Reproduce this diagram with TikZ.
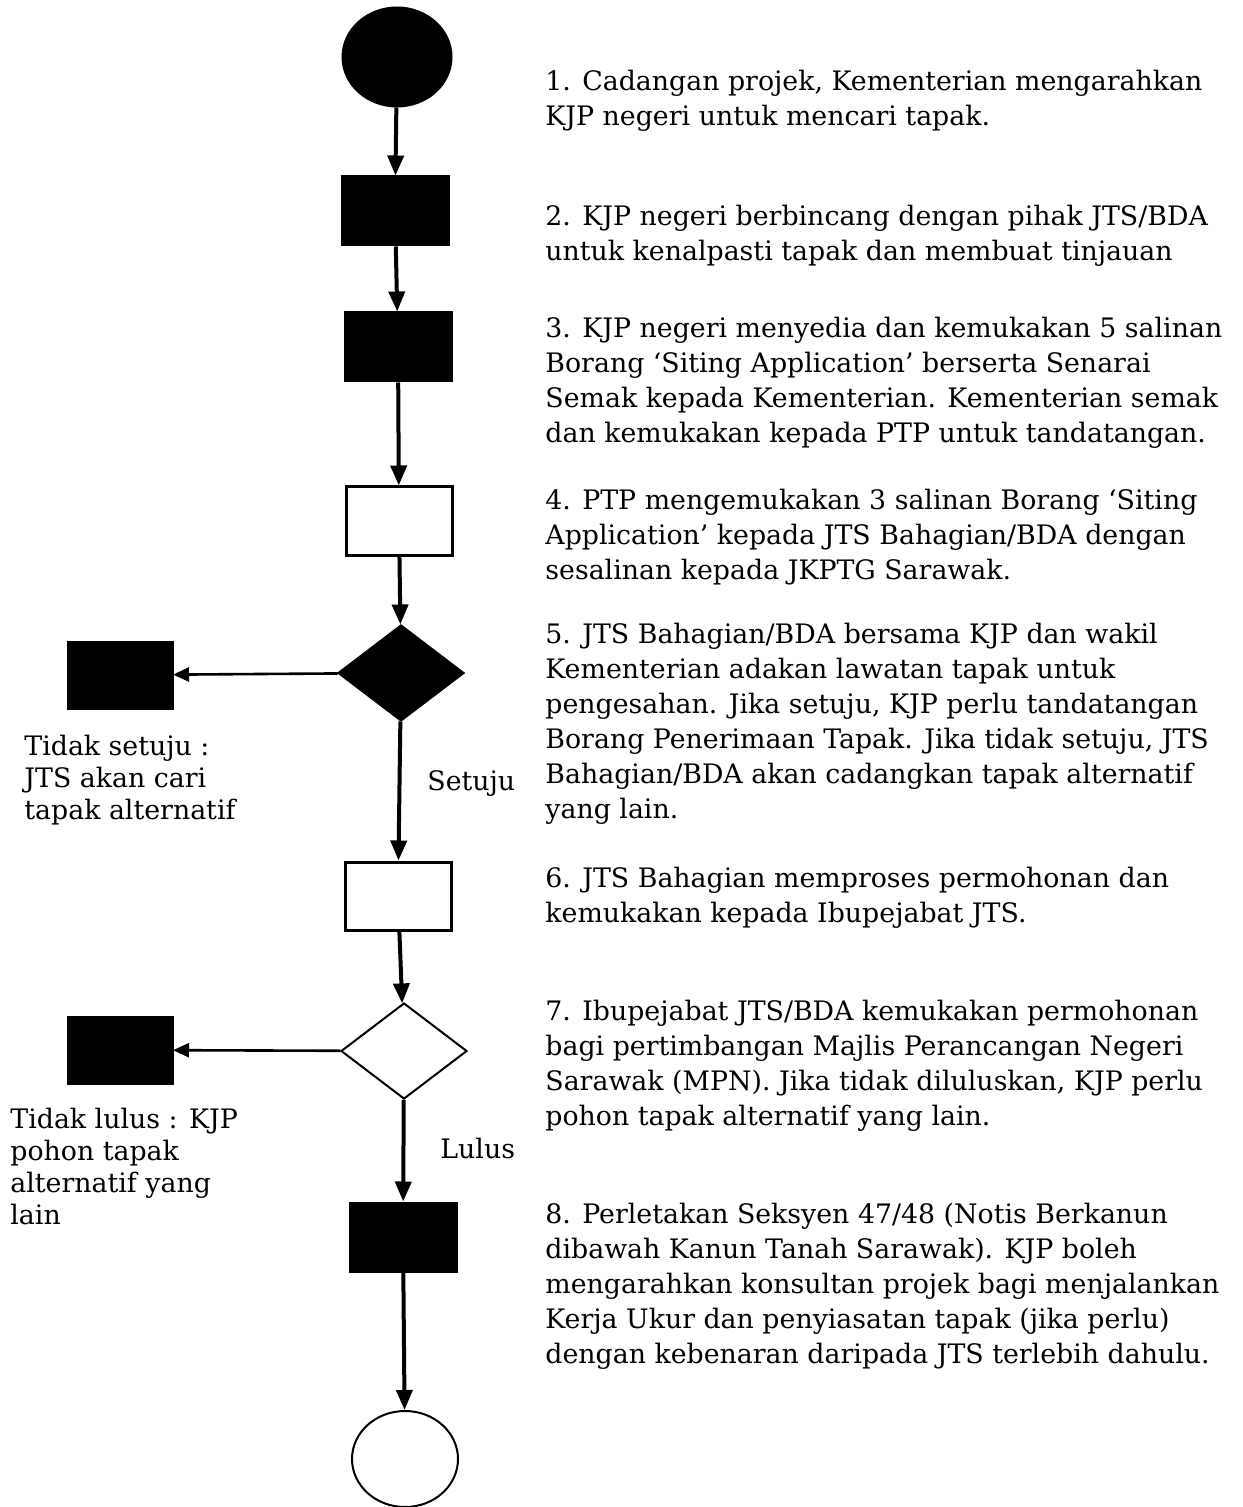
\documentclass[tikz,border=0pt]{standalone}
\usepackage{fontspec}
\setmainfont{DejaVu Serif}
\usetikzlibrary{shapes.geometric, arrows.meta}

\begin{document}
\begin{tikzpicture}[
    x=0.5pt, y=-0.5pt,
    act/.style={draw, line width=1.5pt, minimum width=53pt, minimum height=34pt, inner sep=0pt},
    dec/.style={draw, diamond, line width=1pt, minimum width=63pt, minimum height=48pt, inner sep=0pt},
    endpt/.style={draw, ellipse, line width=1pt, inner sep=0pt},
    desc/.style={anchor=north west, align=left, inner sep=0pt, font=\fontsize{13.4}{17.5}\selectfont},
    note/.style={anchor=north west, align=left, inner sep=0pt, font=\fontsize{13.4}{16}\selectfont},
    flow/.style={-{Triangle[length=10pt, width=8pt]}, line width=2pt},
    side/.style={-{Triangle[length=8pt, width=7pt]}, line width=1.3pt}
]
    \useasboundingbox (0, 0) rectangle (1242, 1507);

    % 1. Main column (top to bottom)
    \node[endpt, fill=black, minimum width=54.5pt, minimum height=49.5pt] (start) at (397, 57) {};
    \node[act, fill=black] (kjp) at (395, 211) {};
    \node[act, fill=black] (borang) at (398, 347) {};
    \node[act, fill=white] (ptp) at (399, 521) {};
    \node[dec, fill=black] (lawatan) at (401, 673) {};
    \node[act, fill=white] (proses) at (398, 896) {};
    \node[dec, fill=white] (mpn) at (404, 1051) {};
    \node[act, fill=black] (seksyen) at (403, 1237) {};
    \node[endpt, fill=white, minimum width=53pt, minimum height=48pt] (stop) at (405, 1459) {};

    % 2. Rejection boxes (left)
    \node[act, fill=black, line width=0pt] (tolaktapak) at (120, 675) {};
    \node[act, fill=black, line width=0pt] (tolakmpn) at (120, 1050) {};

    % Arrows
    \draw[flow] (start) -- (kjp);
    \draw[flow] (kjp) -- (borang);
    \draw[flow] (borang) -- (ptp);
    \draw[flow] (ptp) -- (lawatan);
    \draw[flow] (lawatan) -- (proses);
    \draw[flow] (proses) -- (mpn);
    \draw[flow] (mpn) -- (seksyen);
    \draw[flow] (seksyen) -- (stop);

    % Branching arrows
    \draw[side] (lawatan) -- (tolaktapak);
    \draw[side] (mpn) -- (tolakmpn);

    % 3. Branch labels
    \node[anchor=base west, inner sep=0pt, font=\fontsize{13.4}{16}\selectfont] (setuju) at (427, 790) {Setuju};
    \node[anchor=base west, inner sep=0pt, font=\fontsize{13.4}{16}\selectfont] (lulus) at (440, 1158) {Lulus};
    \node[note] (tsetuju) at (24, 735) {Tidak setuju :\\JTS akan cari\\tapak alternatif};
    \node[note] (tlulus) at (10, 1108) {Tidak lulus : KJP\\pohon tapak\\alternatif yang\\lain};

    % 4. Step descriptions (right)
    \node[desc] (d1) at (545, 70) {1. Cadangan projek, Kementerian mengarahkan\\KJP negeri untuk mencari tapak.};
    \node[desc] (d2) at (545, 205) {2. KJP negeri berbincang dengan pihak JTS/BDA\\untuk kenalpasti tapak dan membuat tinjauan};
    \node[desc] (d3) at (545, 317) {3. KJP negeri menyedia dan kemukakan 5 salinan\\Borang ‘Siting Application’ berserta Senarai\\Semak kepada Kementerian. Kementerian semak\\dan kemukakan kepada PTP untuk tandatangan.};
    \node[desc] (d4) at (545, 489) {4. PTP mengemukakan 3 salinan Borang ‘Siting\\Application’ kepada JTS Bahagian/BDA dengan\\sesalinan kepada JKPTG Sarawak.};
    \node[desc] (d5) at (545, 623) {5. JTS Bahagian/BDA bersama KJP dan wakil\\Kementerian adakan lawatan tapak untuk\\pengesahan. Jika setuju, KJP perlu tandatangan\\Borang Penerimaan Tapak. Jika tidak setuju, JTS\\Bahagian/BDA akan cadangkan tapak alternatif\\yang lain.};
    \node[desc] (d6) at (545, 867) {6. JTS Bahagian memproses permohonan dan\\kemukakan kepada Ibupejabat JTS.};
    \node[desc] (d7) at (545, 1000) {7. Ibupejabat JTS/BDA kemukakan permohonan\\bagi pertimbangan Majlis Perancangan Negeri\\Sarawak (MPN). Jika tidak diluluskan, KJP perlu\\pohon tapak alternatif yang lain.};
    \node[desc] (d8) at (545, 1203) {8. Perletakan Seksyen 47/48 (Notis Berkanun\\dibawah Kanun Tanah Sarawak). KJP boleh\\mengarahkan konsultan projek bagi menjalankan\\Kerja Ukur dan penyiasatan tapak (jika perlu)\\dengan kebenaran daripada JTS terlebih dahulu.};

\end{tikzpicture}
\end{document}
